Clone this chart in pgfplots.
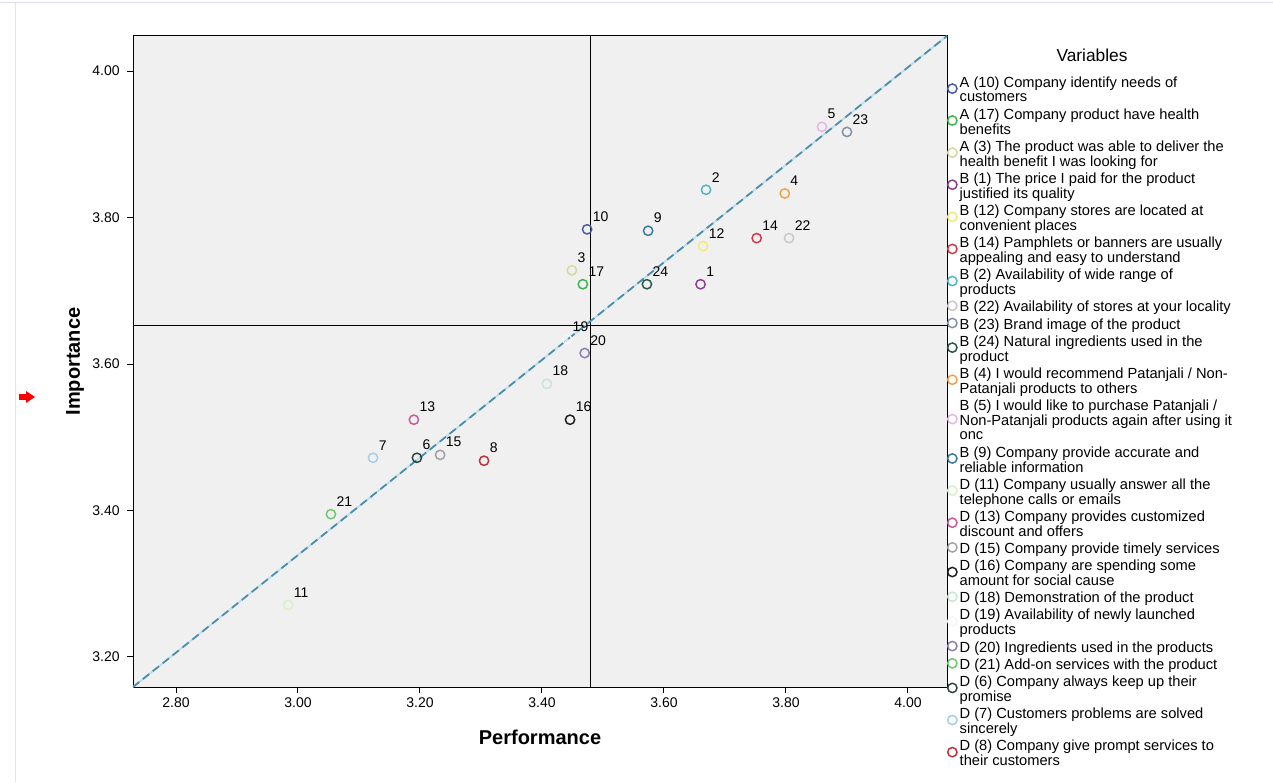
\documentclass[border=0pt]{standalone}
\usepackage{pgfplots}
\pgfplotsset{compat=1.18}
\usepackage{fontspec}
\setmainfont{Liberation Sans}
\definecolor{plotbg}{RGB}{240,240,240}
\definecolor{c10}{RGB}{70,90,170}
\definecolor{c17}{RGB}{60,180,80}
\definecolor{c3}{RGB}{215,215,160}
\definecolor{c1}{RGB}{140,60,145}
\definecolor{c12}{RGB}{240,235,120}
\definecolor{c14}{RGB}{215,55,70}
\definecolor{c2}{RGB}{80,180,195}
\definecolor{c22}{RGB}{200,200,200}
\definecolor{c23}{RGB}{130,145,165}
\definecolor{c24}{RGB}{40,90,70}
\definecolor{c4}{RGB}{240,160,70}
\definecolor{c5}{RGB}{230,180,230}
\definecolor{c9}{RGB}{60,120,155}
\definecolor{c11}{RGB}{215,240,200}
\definecolor{c13}{RGB}{200,90,150}
\definecolor{c15}{RGB}{160,160,165}
\definecolor{c16}{RGB}{30,30,30}
\definecolor{c18}{RGB}{195,230,215}
\definecolor{c19}{RGB}{246,246,246}
\definecolor{c20}{RGB}{140,125,185}
\definecolor{c21}{RGB}{110,200,110}
\definecolor{c6}{RGB}{45,70,60}
\definecolor{c7}{RGB}{165,205,235}
\definecolor{c8}{RGB}{190,50,55}
\definecolor{dlight}{RGB}{185,222,236}
\definecolor{ddark}{RGB}{75,140,170}
\newcommand{\ent}[1]{\begin{tabular}{@{}l@{}}#1\end{tabular}}
\begin{document}
\begin{tikzpicture}[x=0.75pt,y=0.75pt]
\useasboundingbox (0,0) rectangle (1273,782);
\fill[white] (0,0) rectangle (1273,782);
\draw[line width=0.75pt, color={rgb,255:red,218;green,218;blue,240}] (0,779) -- (1273,779);
\draw[line width=0.75pt, color={rgb,255:red,228;green,228;blue,228}] (15,0) -- (15,779);
\begin{axis}[
  at={(99.75pt,71.25pt)}, anchor=south west,
  scale only axis, width=610.5pt, height=488.25pt,
  xmin=2.7295, xmax=4.064, ymin=3.159, ymax=4.048,
  axis background/.style={fill=plotbg},
  xtick={2.8,3.0,3.2,3.4,3.6,3.8,4.0},
  ytick={3.2,3.4,3.6,3.8,4.0},
  /pgf/number format/.cd, fixed, fixed zerofill, precision=2, assume math mode=true,
  /pgfplots/.cd,
  tick label style={font=\fontsize{10.5}{12}\selectfont},
  yticklabel style={xshift=-2pt},
  tick align=outside, major tick length=4.5pt, tick pos=left,
  axis line style={black, line width=0.75pt},
  tick style={black, line width=0.75pt},
  xlabel={Performance}, ylabel={Importance},
  label style={font=\bfseries\fontsize{15}{18}\selectfont},
  xlabel style={at={(axis description cs:0.5,-0.0768)}, anchor=center},
  ylabel style={at={(axis description cs:-0.0713,0.5)}, anchor=center},
  pt/.style={only marks, mark=o, mark size=3.5pt, line width=1.1pt, color=#1,
    legend image code/.code={\draw[##1] plot coordinates {(0pt,2.2pt)};},
    nodes near coords, point meta=explicit symbolic,
    every node near coord/.append style={anchor=south west, text=black,
      font=\fontsize{10.5}{12}\selectfont, inner sep=0pt, xshift=3.75pt, yshift=5.25pt}},
  legend style={at={(1,1)}, anchor=north west, xshift=0.5pt, yshift=-30.6pt,
    draw=none, fill=none, inner sep=0pt, outer sep=0pt, row sep=1.6pt,
    font=\fontsize{11}{10.9}\selectfont,
    nodes={inner sep=0pt, text height=, text depth=},
    /tikz/every odd column/.append style={column sep=2pt}},
  legend cell align=left,
]
\addplot[forget plot, black, line width=0.75pt] coordinates {(3.479,3.159) (3.479,4.048)};
\addplot[forget plot, black, line width=0.75pt] coordinates {(2.7295,3.653) (4.064,3.653)};
\addplot[forget plot, dlight, line width=1.3pt] coordinates {(2.7295,3.159) (4.064,4.048)};
\addplot[forget plot, ddark, line width=1.3pt, dash pattern=on 6pt off 3.5pt] coordinates {(2.7295,3.159) (4.064,4.048)};

\addplot[pt=c10] coordinates {(3.474,3.784) [10]};
\addlegendentry{\ent{A (10) Company identify needs of\\customers}}
\addplot[pt=c17] coordinates {(3.467,3.709) [17]};
\addlegendentry{\ent{A (17) Company product have health\\benefits}}
\addplot[pt=c3] coordinates {(3.449,3.728) [3]};
\addlegendentry{\ent{A (3) The product was able to deliver the\\health benefit I was looking for}}
\addplot[pt=c1] coordinates {(3.660,3.709) [1]};
\addlegendentry{\ent{B (1) The price I paid for the product\\justified its quality}}
\addplot[pt=c12] coordinates {(3.664,3.761) [12]};
\addlegendentry{\ent{B (12) Company stores are located at\\convenient places}}
\addplot[pt=c14] coordinates {(3.752,3.772) [14]};
\addlegendentry{\ent{B (14) Pamphlets or banners are usually\\appealing and easy to understand}}
\addplot[pt=c2] coordinates {(3.669,3.838) [2]};
\addlegendentry{\ent{B (2) Availability of wide range of\\products}}
\addplot[pt=c22] coordinates {(3.805,3.772) [22]};
\addlegendentry{\ent{B (22) Availability of stores at your locality}}
\addplot[pt=c23] coordinates {(3.900,3.917) [23]};
\addlegendentry{\ent{B (23) Brand image of the product}}
\addplot[pt=c24] coordinates {(3.572,3.709) [24]};
\addlegendentry{\ent{B (24) Natural ingredients used in the\\product}}
\addplot[pt=c4] coordinates {(3.798,3.833) [4]};
\addlegendentry{\ent{B (4) I would recommend Patanjali / Non-\\Patanjali products to others}}
\addplot[pt=c5] coordinates {(3.859,3.924) [5]};
\addlegendentry{\ent{B (5) I would like to purchase Patanjali /\\Non-Patanjali products again after using it\\onc}}
\addplot[pt=c9] coordinates {(3.574,3.782) [9]};
\addlegendentry{\ent{B (9) Company provide accurate and\\reliable information}}
\addplot[pt=c11] coordinates {(2.984,3.271) [11]};
\addlegendentry{\ent{D (11) Company usually answer all the\\telephone calls or emails}}
\addplot[pt=c13] coordinates {(3.190,3.524) [13]};
\addlegendentry{\ent{D (13) Company provides customized\\discount and offers}}
\addplot[pt=c15] coordinates {(3.233,3.476) [15]};
\addlegendentry{\ent{D (15) Company provide timely services}}
\addplot[pt=c16] coordinates {(3.446,3.524) [16]};
\addlegendentry{\ent{D (16) Company are spending some\\amount for social cause}}
\addplot[pt=c18] coordinates {(3.408,3.573) [18]};
\addlegendentry{\ent{D (18) Demonstration of the product}}
\addplot[pt=c19] coordinates {(3.441,3.634) [19]};
\addlegendentry{\ent{D (19) Availability of newly launched\\products}}
\addplot[pt=c20] coordinates {(3.470,3.615) [20]};
\addlegendentry{\ent{D (20) Ingredients used in the products}}
\addplot[pt=c21] coordinates {(3.054,3.395) [21]};
\addlegendentry{\ent{D (21) Add-on services with the product}}
\addplot[pt=c6] coordinates {(3.195,3.472) [6]};
\addlegendentry{\ent{D (6) Company always keep up their\\promise}}
\addplot[pt=c7] coordinates {(3.123,3.472) [7]};
\addlegendentry{\ent{D (7) Customers problems are solved\\sincerely}}
\addplot[pt=c8] coordinates {(3.305,3.468) [8]};
\addlegendentry{\ent{D (8) Company give prompt services to\\their customers}}
\end{axis}
\node[font=\fontsize{13}{15}\selectfont] at (1092,727) {Variables};
\fill[red] (19,382) rectangle (27,388);
\fill[red] (26,379) -- (35,385) -- (26,391) -- cycle;
\end{tikzpicture}
\end{document}
